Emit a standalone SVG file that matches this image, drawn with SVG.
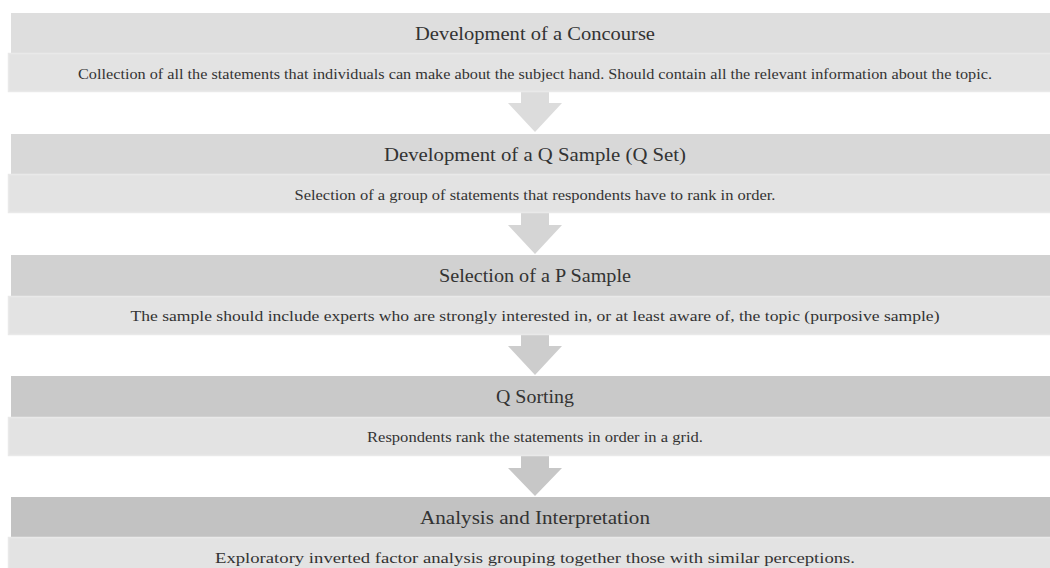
<svg xmlns="http://www.w3.org/2000/svg" width="1050" height="568" viewBox="0 0 1050 568">
<style>
.t{font-family:"Liberation Serif","DejaVu Serif",serif;font-size:19px;fill:#333;text-anchor:middle}
.d{font-family:"Liberation Serif","DejaVu Serif",serif;font-size:15px;fill:#333;text-anchor:middle}
.desc{fill:#e3e3e3;stroke:#e9e9e9;stroke-width:1.5}
</style>
<rect width="1050" height="568" fill="#fff"/>
<g id="connectors">
<polygon points="521,91 549,91 549,103 562,103 535,132 508,103 521,103" fill="#dcdcdc"/>
<polygon points="521,213 549,213 549,225 562,225 535,254 508,225 521,225" fill="#d5d5d5"/>
<polygon points="521,335 549,335 549,346 562,346 535,375 508,346 521,346" fill="#cdcdcd"/>
<polygon points="521,456 549,456 549,468 562,468 535,496 508,468 521,468" fill="#c7c7c7"/>
</g>
<g id="step1">
<rect x="11" y="13" width="1045" height="40" fill="#dedede"/>
<rect class="desc" x="8.5" y="53.5" width="1045" height="38"/>
<text class="t" x="535" y="39.5" textLength="240" lengthAdjust="spacingAndGlyphs">Development of a Concourse</text>
<text class="d" x="535" y="78.5" textLength="914" lengthAdjust="spacingAndGlyphs">Collection of all the statements that individuals can make about the subject hand. Should contain all the relevant information about the topic.</text>
</g>
<g id="step2">
<rect x="11" y="134" width="1045" height="40" fill="#d8d8d8"/>
<rect class="desc" x="8.5" y="174.5" width="1045" height="38"/>
<text class="t" x="535" y="160.5" textLength="302" lengthAdjust="spacingAndGlyphs">Development of a Q Sample (Q Set)</text>
<text class="d" x="535" y="199.5" textLength="481" lengthAdjust="spacingAndGlyphs">Selection of a group of statements that respondents have to rank in order.</text>
</g>
<g id="step3">
<rect x="11" y="255" width="1045" height="41" fill="#d1d1d1"/>
<rect class="desc" x="8.5" y="296.5" width="1045" height="38"/>
<text class="t" x="535" y="282" textLength="192" lengthAdjust="spacingAndGlyphs">Selection of a P Sample</text>
<text class="d" x="535" y="321" textLength="809" lengthAdjust="spacingAndGlyphs">The sample should include experts who are strongly interested in, or at least aware of, the topic (purposive sample)</text>
</g>
<g id="step4">
<rect x="11" y="376" width="1045" height="41" fill="#c9c9c9"/>
<rect class="desc" x="8.5" y="417.5" width="1045" height="38"/>
<text class="t" x="535" y="403" textLength="78" lengthAdjust="spacingAndGlyphs">Q Sorting</text>
<text class="d" x="535" y="442" textLength="336" lengthAdjust="spacingAndGlyphs">Respondents rank the statements in order in a grid.</text>
</g>
<g id="step5">
<rect x="11" y="497" width="1045" height="40" fill="#c2c2c2"/>
<rect class="desc" x="8.5" y="537.5" width="1045" height="38"/>
<text class="t" x="535" y="524" textLength="230" lengthAdjust="spacingAndGlyphs">Analysis and Interpretation</text>
<text class="d" x="535" y="563" textLength="640" lengthAdjust="spacingAndGlyphs">Exploratory inverted factor analysis grouping together those with similar perceptions.</text>
</g>
</svg>
